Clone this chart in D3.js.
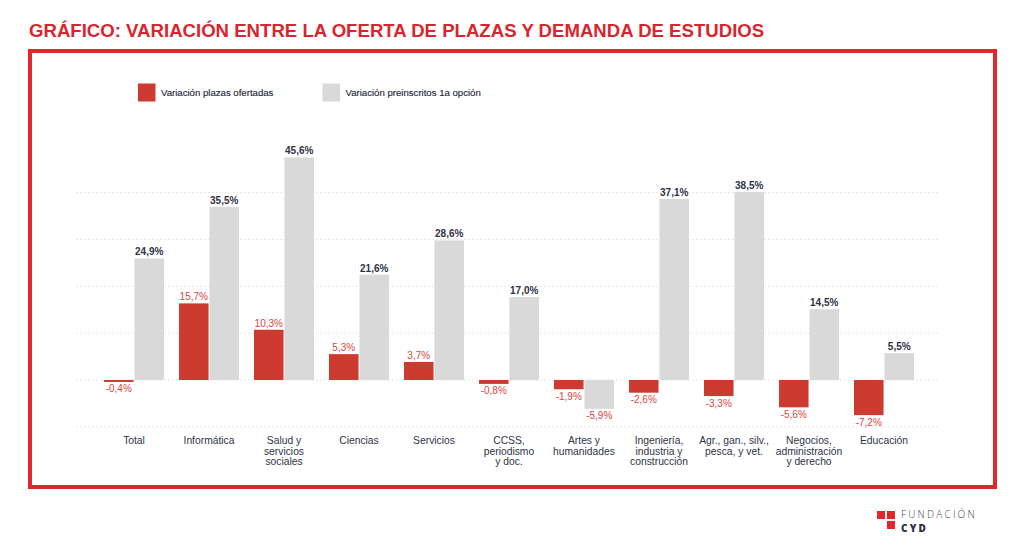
<!DOCTYPE html>
<html>
<head>
<meta charset="utf-8">
<script src="https://cdn.jsdelivr.net/npm/d3@7"></script>
<style>
  html, body { margin: 0; padding: 0; background: #ffffff; }
  svg { display: block; font-family: "Liberation Sans", Arial, Helvetica, sans-serif; }
</style>
</head>
<body>
<svg id="chart" width="1024" height="553"></svg>
<script>
// ---- Data ----
const categories = [
  ["Total"],
  ["Informática"],
  ["Salud y", "servicios", "sociales"],
  ["Ciencias"],
  ["Servicios"],
  ["CCSS,", "periodismo", "y doc."],
  ["Artes y", "humanidades"],
  ["Ingeniería,", "industria y", "construcción"],
  ["Agr., gan., silv.,", "pesca, y vet."],
  ["Negocios,", "administración", "y derecho"],
  ["Educación"]
];
const seriesNames = ["Variación plazas ofertadas", "Variación preinscritos 1a opción"];
const plazas = [-0.4, 15.7, 10.3, 5.3, 3.7, -0.8, -1.9, -2.6, -3.3, -5.6, -7.2];
const preinscritos = [24.9, 35.5, 45.6, 21.6, 28.6, 17.0, -5.9, 37.1, 38.5, 14.5, 5.5];
const gridValues = [-9.6, 0, 9.6, 19.2, 28.8, 38.4];
const titleText = "GRÁFICO: VARIACIÓN ENTRE LA OFERTA DE PLAZAS Y DEMANDA DE ESTUDIOS";

// ---- Styles ----
const RED = "#cc3a30";
const GRAY = "#d9d9d9";
const RED_TEXT = "#e0443e";
const DARK_TEXT = "#2e3347";
const TITLE_RED = "#d9262e";

const svg = d3.select("#chart");
const fmt = v => d3.format(".1f")(v).replace(".", ",").replace("\u2212", "-") + "%";

// Title
svg.append("text")
  .attr("x", 29).attr("y", 37)
  .attr("fill", TITLE_RED)
  .attr("font-size", 18.6)
  .attr("font-weight", "bold")
  .text(titleText);

// Frame
svg.append("rect")
  .attr("x", 30).attr("y", 51)
  .attr("width", 965).attr("height", 436)
  .attr("fill", "none")
  .attr("stroke", "#e3262b")
  .attr("stroke-width", 4);

// Scales
const x0 = d3.scaleBand()
  .domain(d3.range(categories.length))
  .range([96.5, 921.5])
  .paddingInner(0.2)
  .paddingOuter(0.1);
const x1 = d3.scaleBand()
  .domain([0, 1])
  .range([0, x0.bandwidth()])
  .paddingInner(0.03);
const y = d3.scaleLinear()
  .domain([0, 10])
  .range([380, 380 - 48.8]);

// Gridlines
svg.append("g").selectAll("line")
  .data(gridValues)
  .join("line")
  .attr("x1", 76).attr("x2", 940)
  .attr("y1", d => y(d)).attr("y2", d => y(d))
  .attr("stroke", "#e6e6e6")
  .attr("stroke-width", 1)
  .attr("stroke-dasharray", "2,2");

// Bars
const seriesData = [plazas, preinscritos];
const colors = [RED, GRAY];

seriesData.forEach((vals, s) => {
  const g = svg.append("g");
  g.selectAll("rect")
    .data(vals)
    .join("rect")
    .attr("x", (d, i) => x0(i) + x1(s))
    .attr("width", x1.bandwidth())
    .attr("y", d => y(Math.max(0, d)))
    .attr("height", d => Math.abs(y(d) - y(0)))
    .attr("fill", colors[s]);
  g.selectAll("text")
    .data(vals)
    .join("text")
    .attr("x", (d, i) => x0(i) + x1(s) + x1.bandwidth() / 2)
    .attr("y", d => d >= 0 ? y(d) - 3 : y(d) + 10.5)
    .attr("text-anchor", "middle")
    .attr("font-size", 10)
    .attr("font-weight", d => (s === 1 && d >= 0) ? "bold" : "normal")
    .attr("fill", d => (s === 1 && d >= 0) ? DARK_TEXT : RED_TEXT)
    .text(d => fmt(d));
});

// Category labels
const xl = svg.append("g");
categories.forEach((lines, i) => {
  const t = xl.append("text")
    .attr("x", x0(i) + x0.bandwidth() / 2)
    .attr("y", 444)
    .attr("text-anchor", "middle")
    .attr("font-size", 10.3)
    .attr("fill", DARK_TEXT);
  lines.forEach((ln, k) => {
    t.append("tspan")
      .attr("x", x0(i) + x0.bandwidth() / 2)
      .attr("dy", k === 0 ? 0 : 10.7)
      .text(ln);
  });
});

// Legend
const legendX = [138, 322.5];
seriesNames.forEach((name, s) => {
  svg.append("rect")
    .attr("x", legendX[s]).attr("y", 83.5)
    .attr("width", 17.5).attr("height", 18)
    .attr("fill", colors[s]);
  svg.append("text")
    .attr("x", legendX[s] + 23).attr("y", 96)
    .attr("font-size", 9.6)
    .attr("fill", "#262a3c")
    .attr("stroke", "#262a3c")
    .attr("stroke-width", 0.15)
    .text(name);
});

// Logo
const logo = svg.append("g");
[[877, 511], [887, 511], [887, 521]].forEach(([lx, ly]) => {
  logo.append("rect").attr("x", lx).attr("y", ly).attr("width", 8).attr("height", 8).attr("fill", "#e3262b");
});
logo.append("text")
  .attr("x", 901).attr("y", 518)
  .attr("font-family", "'Open Sans', 'DejaVu Sans', sans-serif")
  .attr("font-size", 10)
  .attr("letter-spacing", 2.2)
  .attr("font-weight", 300)
  .attr("fill", "#3b4057")
  .text("FUNDACIÓN");
logo.append("text")
  .attr("x", 901).attr("y", 531.5)
  .attr("font-family", "'Open Sans', 'DejaVu Sans', sans-serif")
  .attr("font-size", 10)
  .attr("letter-spacing", 2.2)
  .attr("font-weight", 800)
  .attr("fill", "#2b2f45")
  .text("CYD");
</script>
</body>
</html>
